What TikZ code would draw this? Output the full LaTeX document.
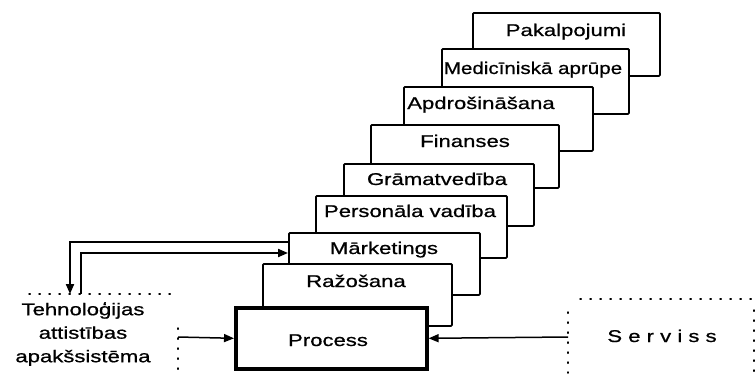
\documentclass[tikz,border=0pt]{standalone}
\usepackage{fontspec}
\setmainfont{Liberation Sans}[FakeStretch=1.3,FakeBold=0.7]
\newfontfamily\narrowfont{Liberation Sans}[FakeStretch=1.21,FakeBold=0.7]
\usetikzlibrary{arrows.meta,calc}
\begin{document}
\begin{tikzpicture}[x=1pt,y=-1pt,
  stackbox/.style={draw,fill=white,line width=1.8pt,inner sep=0pt,anchor=north west,rounded corners=1pt},
  procbox/.style={draw,fill=white,line width=3.6pt,inner sep=0pt,anchor=north west},
  lbl/.style={inner sep=0pt,anchor=base,font=\fontsize{17}{23.5}\selectfont},
  dotline/.style={line width=1.5pt,dash pattern=on 1.2pt off 8.8pt,line cap=round},
  arrow/.style={line width=2pt,-{Triangle[length=10pt,width=8pt]}},
  flow/.style={line width=1.5pt,-{Triangle[length=10pt,width=8pt]}}]
\useasboundingbox (0,0) rectangle (755,373);

% staircase of subsystem boxes, back to front
\node[stackbox,minimum width=187,minimum height=63] (pak)  at (472,12)  {};
\node[stackbox,minimum width=187,minimum height=65] (med)  at (441,48)  {};
\node[stackbox,minimum width=189,minimum height=64] (apd)  at (403,86)  {};
\node[stackbox,minimum width=188,minimum height=63] (fin)  at (370,124) {};
\node[stackbox,minimum width=190,minimum height=62] (gram) at (343,163) {};
\node[stackbox,minimum width=191,minimum height=62] (pers) at (315,195) {};
\node[stackbox,minimum width=191,minimum height=62] (mark) at (288,232) {};
\node[stackbox,minimum width=189,minimum height=62] (raz)  at (262,263) {};
\node[procbox,minimum width=191,minimum height=61] (proc) at (234,306) {};

% box titles
\node[lbl] (pakt)  at (566,36)  {Pakalpojumi};
\node[lbl,font=\narrowfont\fontsize{17}{23.5}\selectfont] (medt) at (533,74) {Medicīniskā aprūpe};
\node[lbl] (apdt)  at (481,109) {Apdrošināšana};
\node[lbl] (fint)  at (465,147) {Finanses};
\node[lbl] (gramt) at (437,185) {Grāmatvedība};
\node[lbl] (perst) at (410,217) {Personāla vadība};
\node[lbl] (markt) at (384,254) {Mārketings};
\node[lbl] (razt)  at (356,287) {Ražošana};
\node[lbl] (proct) at (328,346) {Process};

% technology development subsystem (open dotted frame)
\node[lbl,anchor=north,align=center] (tech) at (83,302)
  {Tehnoloģijas\\attistības\\apakšsistēma};
\draw[dotline] (29,294) -- (172,294);
\draw[dotline] (178,328) -- (178,373);
\coordinate (techin)  at (70,294);
\coordinate (techout) at (81,294);
\coordinate (techedge) at (178,337);

% service frame (open dotted frame)
\node[lbl] (serv) at (662,342) {S e r v i s s};
\draw[dotline] (580,299) -- (755,299);
\draw[dotline] (568,312) -- (568,373);
\draw[dotline] (754,310) -- (754,373);
\coordinate (servedge) at (568,337);

% connectors
\draw[arrow] ([yshift=-10pt]mark.north west) -| (techin);
\draw[arrow] (techout) |- ([yshift=-21pt]mark.north west);
\draw[flow] (techedge) -- (proc.west);
\draw[flow] (servedge) -- (proc.east);
\end{tikzpicture}
\end{document}
